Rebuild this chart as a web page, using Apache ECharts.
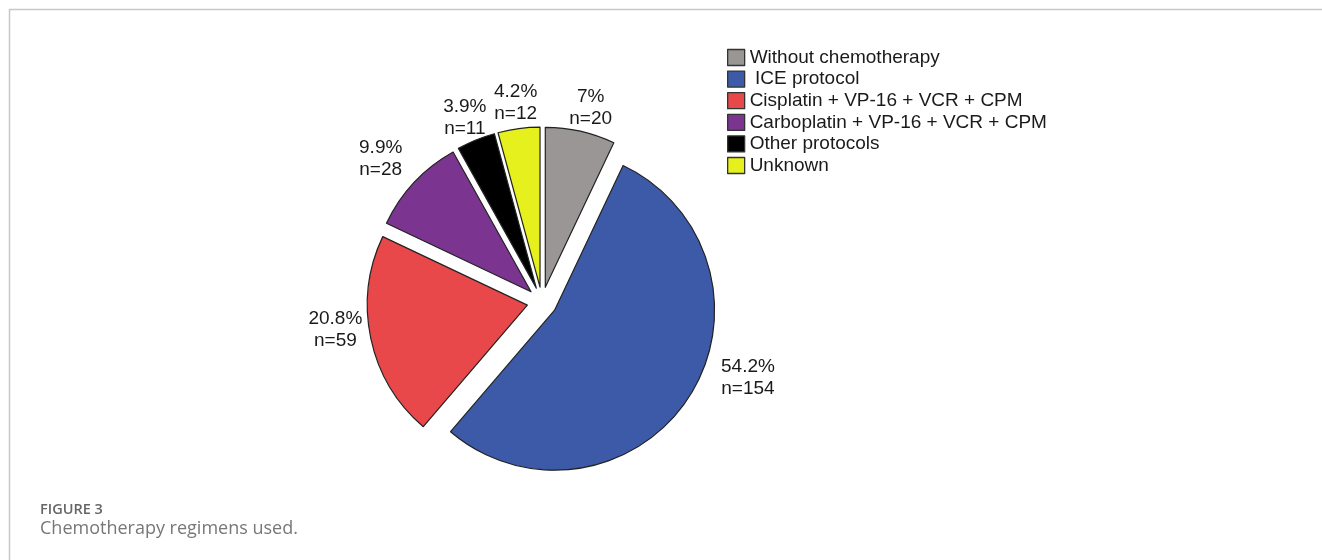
<!DOCTYPE html>
<html>
<head>
<meta charset="utf-8">
<title>Chemotherapy regimens used</title>
<script src="https://cdn.jsdelivr.net/npm/echarts@6/dist/echarts.min.js"></script>
<style>
  html, body { margin: 0; padding: 0; background: #ffffff; }
  #chart { width: 1322px; height: 560px; }
</style>
</head>
<body>
<div id="chart"></div>
<script>
// Regimens, in clockwise order starting from 12 o'clock
const categories = [
  'Without chemotherapy',
  ' ICE protocol',
  'Cisplatin + VP-16 + VCR + CPM',
  'Carboplatin + VP-16 + VCR + CPM',
  'Other protocols',
  'Unknown'
];
// Number of patients per regimen
const counts = [20, 154, 59, 28, 11, 12];
// Percentages as printed on the labels
const percents = ['7%', '54.2%', '20.8%', '9.9%', '3.9%', '4.2%'];

const sliceColors = ['#9a9696', '#3c5aa8', '#e9484b', '#7b3490', '#000000', '#e5f01c'];

// small label nudges [dx, dy] applied after the pie's own label layout
const labelNudge = [[0, 0], [34, -32], [-7, -14], [-11, -7], [3, 0], [5, -2]];

const textFont = '"Liberation Sans", Arial, sans-serif';

const chart = echarts.init(document.getElementById('chart'), null, { renderer: 'canvas' });

const pieData = categories.map((name, i) => ({
  name: name,
  value: counts[i],
  selected: true,
  itemStyle: { color: sliceColors[i] }
}));

chart.setOption({
  backgroundColor: '#ffffff',
  animation: false,
  title: {
    text: 'FIGURE 3',
    subtext: 'Chemotherapy regimens used.',
    left: 35,
    top: 497,
    itemGap: 3,
    textStyle: {
      fontFamily: '"Open Sans", sans-serif',
      fontSize: 14.5,
      fontWeight: 600,
      color: '#666666'
    },
    subtextStyle: {
      fontFamily: '"Open Sans", sans-serif',
      fontSize: 18,
      fontWeight: 'normal',
      color: '#777777'
    }
  },
  legend: {
    orient: 'vertical',
    left: 727,
    top: 48,
    padding: 0,
    itemWidth: 17,
    itemHeight: 16,
    itemGap: 2.6,
    icon: 'rect',
    selectedMode: false,
    data: categories,
    itemStyle: { borderColor: '#333333', borderWidth: 1.3 },
    textStyle: {
      fontFamily: textFont,
      fontSize: 19,
      lineHeight: 16,
      color: '#1a1a1a'
    }
  },
  graphic: [
    // figure frame: top and left rules
    { type: 'line', shape: { x1: 9, y1: 9.5, x2: 1322, y2: 9.5 }, style: { stroke: '#c8c8c8', lineWidth: 1.5 } },
    { type: 'line', shape: { x1: 9.5, y1: 9, x2: 9.5, y2: 560 }, style: { stroke: '#c8c8c8', lineWidth: 1.5 } }
  ],
  series: [{
    type: 'pie',
    center: [542, 302],
    radius: 160,
    startAngle: 90,
    clockwise: true,
    selectedMode: 'multiple',
    selectedOffset: 15,
    avoidLabelOverlap: false,
    data: pieData,
    itemStyle: { borderColor: '#222222', borderWidth: 1.2 },
    select: { itemStyle: { borderColor: '#222222', borderWidth: 1.2 } },
    emphasis: { disabled: true },
    label: {
      show: true,
      position: 'outside',
      align: 'center',
      fontFamily: textFont,
      fontSize: 19,
      lineHeight: 22,
      color: '#1a1a1a',
      formatter: p => percents[p.dataIndex] + '\nn=' + counts[p.dataIndex]
    },
    labelLine: { show: false, length: 24, length2: 0 },
    labelLayout: p => ({
      align: 'center',
      dx: labelNudge[p.dataIndex][0],
      dy: labelNudge[p.dataIndex][1]
    })
  }]
});
</script>
</body>
</html>
